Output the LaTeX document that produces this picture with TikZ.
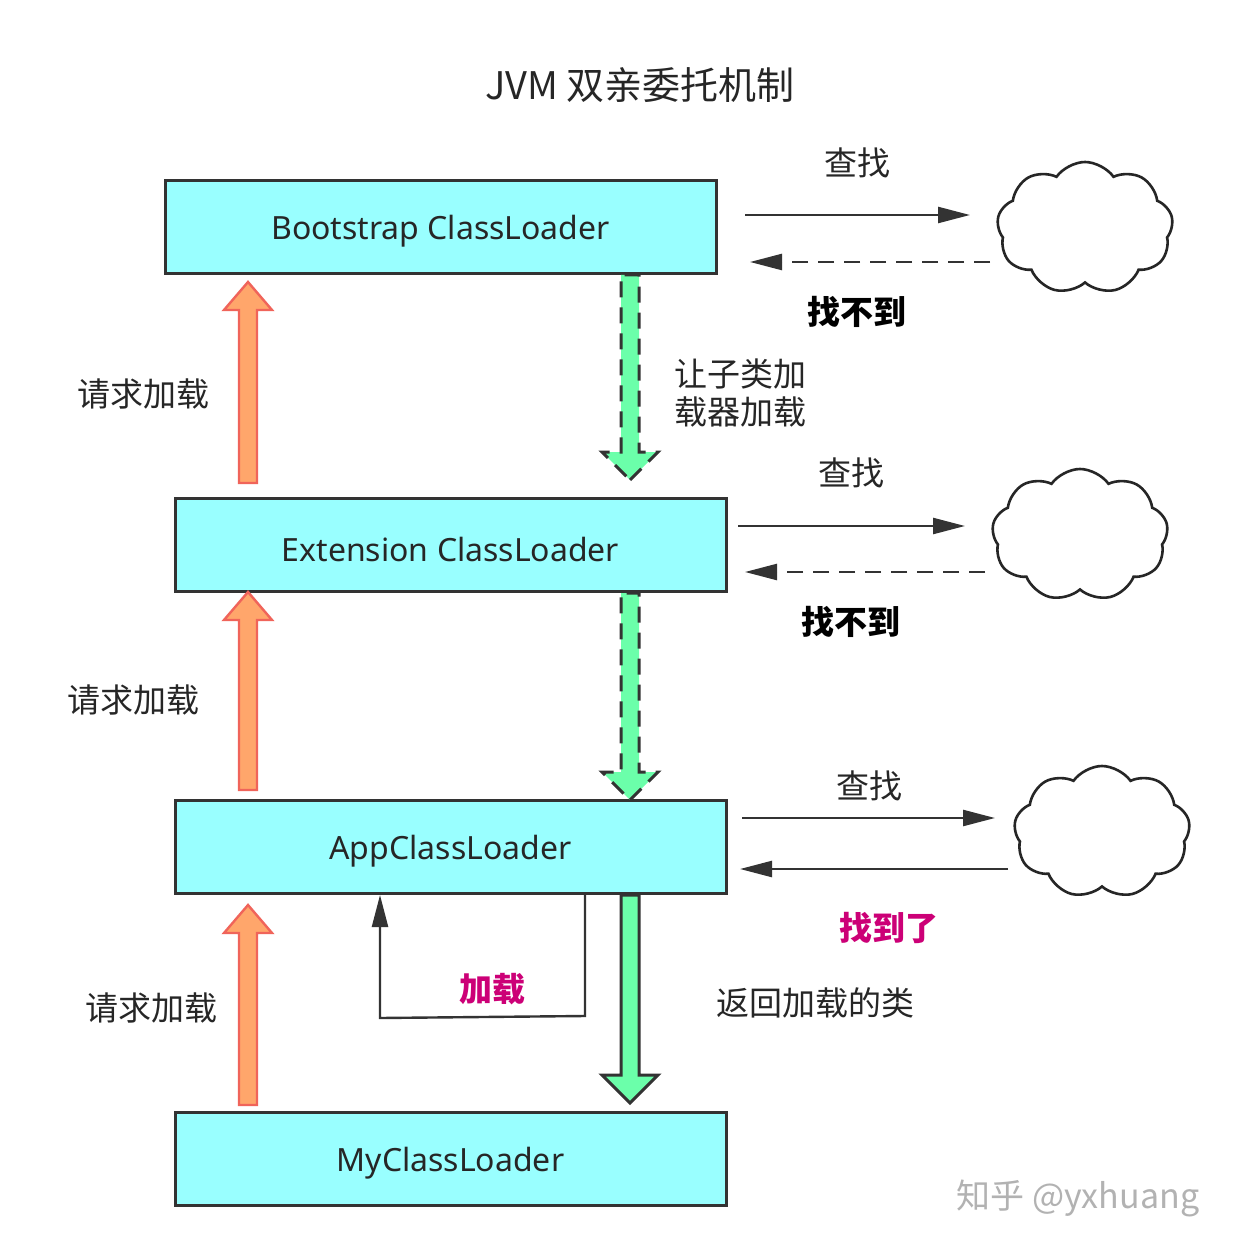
\documentclass[tikz,border=0pt]{standalone}
\usepackage{fontspec}
\setmainfont{Noto Sans CJK SC}
\newfontfamily\latn{Noto Sans}
\usetikzlibrary{shapes.symbols,arrows.meta}
\definecolor{boxc}{HTML}{99FFFF}
\definecolor{org}{HTML}{FFA66B}
\definecolor{orgb}{HTML}{F0645A}
\definecolor{grn}{HTML}{6BFFAA}
\definecolor{mag}{HTML}{CC0077}
\begin{document}
\begin{tikzpicture}[x=0.5pt,y=-0.5pt,
 box/.style={draw=black!80,line width=1.5pt,fill=boxc,minimum width=275.5pt,minimum height=46.5pt,font=\latn\fontsize{16}{18}\selectfont,text=black!85},
 bt/.style={font=\latn\fontsize{16}{18}\selectfont,text=black!85},
 lab/.style={font=\fontsize{16.5}{19}\selectfont,text=black!85},
 blab/.style={font=\fontsize{16.5}{19}\selectfont\bfseries,text=black},
 cl/.style={cloud,cloud puffs=9,cloud puff arc=110,aspect=1.3,draw=black!85,line width=1.3pt,minimum width=88pt,minimum height=66pt},
 ar/.style={line width=1.2pt,draw=black!80,-{Triangle[length=16pt,width=8pt]}},
 dar/.style={ar,dashed,dash pattern=on 8pt off 5pt}]
\useasboundingbox (0,0) rectangle (1244,1256);
\fill[white] (0,0) rectangle (1244,1256);
\node[font=\fontsize{19}{22}\selectfont,text=black!85] (t) at (640,85) {JVM 双亲委托机制};
\node[box] (b) at (440.5,227) {};
\node[box] (e) at (450.5,545) {};
\node[box] (a) at (450.5,846.5) {};
\node[box] (m) at (450.5,1159) {};
\node[bt] (bl) at (440.5,231) {Bootstrap ClassLoader};
\node[bt] (el) at (450.5,549) {Extension ClassLoader};
\node[bt] (al) at (450.5,851) {AppClassLoader};
\node[bt] (ml) at (450.5,1163) {MyClassLoader};
% orange up arrows
\foreach \tp/\bt in {282/483,592/790,905/1105}{
 \draw[orgb,fill=org,line width=1.2pt] (248,\tp) -- (272,\tp+28) -- (257,\tp+28) -- (257,\bt) -- (239,\bt) -- (239,\tp+28) -- (224,\tp+28) -- cycle;}
% green arrows
\foreach \tp/\bt in {275/480,593/800}{
 \draw[black!80,fill=grn,line width=1.5pt,dashed,dash pattern=on 8pt off 5pt] (630,\bt) -- (658,\bt-28) -- (639,\bt-28) -- (639,\tp) -- (621,\tp) -- (621,\bt-28) -- (602,\bt-28) -- cycle;}
\draw[black!80,fill=grn,line width=1.5pt] (630,1103) -- (658,1075) -- (639,1075) -- (639,895) -- (621,895) -- (621,1075) -- (602,1075) -- cycle;
% clouds
\node[cl] (c1) at (1085,228) {};
\node[cl] (c2) at (1080,535) {};
\node[cl] (c3) at (1102,832) {};
\coordinate (p1) at (745,215); \coordinate (q1) at (970,215);
\coordinate (r1) at (990,262); \coordinate (s1) at (750,262);
\draw[ar] (p1) -- (q1); \draw[dar] (r1) -- (s1);
\coordinate (p2) at (738,526); \coordinate (q2) at (965,526);
\coordinate (r2) at (985,572); \coordinate (s2) at (745,572);
\draw[ar] (p2) -- (q2); \draw[dar] (r2) -- (s2);
\coordinate (p3) at (742,818); \coordinate (q3) at (995,818);
\coordinate (r3) at (1008,869); \coordinate (s3) at (740,869);
\draw[ar] (p3) -- (q3); \draw[ar] (r3) -- (s3);
\node[lab] (l1) at (857,163) {查找};
\node[blab] (l2) at (857,312) {找不到};
\node[lab] (l3) at (851,473) {查找};
\node[blab] (l4) at (851,622) {找不到};
\node[lab] (l5) at (869,786) {查找};
\node[blab,text=mag] (l6) at (889,928) {找到了};
\node[lab,align=left] (l7) at (740,393) {让子类加\\载器加载};
\node[lab] (l8) at (815,1003) {返回加载的类};
\node[lab] (r1l) at (143,394) {请求加载};
\node[lab] (r2l) at (133,700) {请求加载};
\node[lab] (r3l) at (151,1008) {请求加载};
% loop
\coordinate (la) at (585,895); \coordinate (lb) at (585,1016); \coordinate (lc) at (380,1018); \coordinate (ld) at (380,895);
\draw[ar] (la) -- (lb) -- (lc) -- (ld);
\node[blab,text=mag] (jz) at (492,989) {加载};
\node[font=\fontsize{17}{20}\selectfont,text=black!30] (wm) at (1078,1198) {知乎 @yxhuang};
\end{tikzpicture}
\end{document}
